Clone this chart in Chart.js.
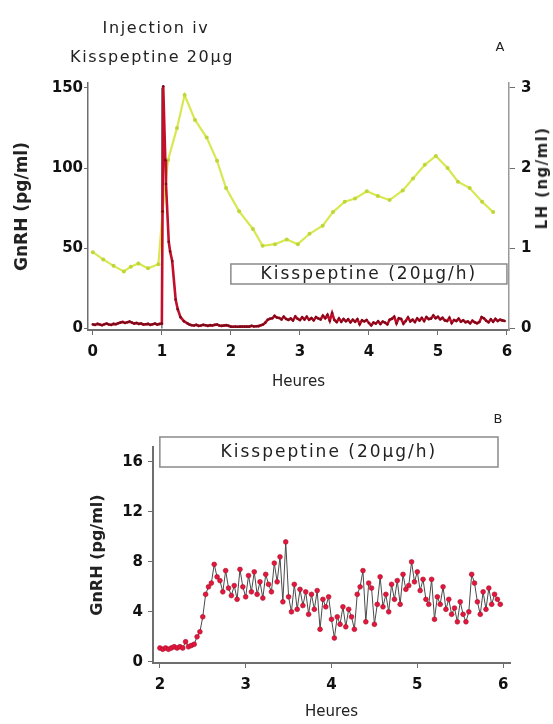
<!DOCTYPE html>
<html>
<head>
<meta charset="utf-8">
<script src="https://cdn.jsdelivr.net/npm/chart.js@4.4.0/dist/chart.umd.min.js"></script>
<style>
  body { margin: 0; background: #fff; width: 553px; height: 724px; position: relative; overflow: hidden;
         font-family: "DejaVu Sans", sans-serif; color: #222; }
  canvas { position: absolute; left: 0; }
  #chartA { top: 0; }
  #chartB { top: 395px; }
  .lbl { position: absolute; white-space: nowrap; transform: translate(-50%, -50%); font-size: 16px; letter-spacing: 1.6px; }
  .rot { transform: translate(-50%, -50%) rotate(-90deg); font-weight: bold; font-size: 15px; letter-spacing: 1.4px; }
</style>
</head>
<body>
<canvas id="chartA" width="553" height="395"></canvas>
<canvas id="chartB" width="553" height="329"></canvas>
<div class="lbl" style="left:156px; top:27px;">Injection iv</div>
<div class="lbl" style="left:152px; top:56px;">Kisspeptine 20µg</div>
<div class="lbl" style="left:500px; top:46px; font-size:13px; letter-spacing:0;">A</div>
<div class="lbl" style="left:498px; top:418px; font-size:13px; letter-spacing:0;">B</div>
<div class="lbl rot" style="left:542px; top:178px;">LH (ng/ml)</div>
<script>
// Hours axis ticks
const hourTicksA = [0, 1, 2, 3, 4, 5, 6];
const hourTicksB = [2, 3, 4, 5, 6];
const gnrhTicksA = [0, 50, 100, 150];
const lhTicks = [0, 1, 2, 3];
const gnrhTicksB = [0, 4, 8, 12, 16];

// Injection (iv bolus) at 1 h, infusion 20 µg/h from 2 h to 6 h
const injectionHour = 1;
const injectionMarkTop = 150;
const infusionStart = 2;
const infusionEnd = 6;
const infusionLabel = 'Kisspeptine (20µg/h)';

// LH (ng/ml), 10 min samples
const lhHours = [0, 0.15, 0.30, 0.45, 0.55, 0.66, 0.80, 0.95, 1.01, 1.09, 1.22, 1.33, 1.48, 1.65, 1.80, 1.93,
  2.12, 2.32, 2.46, 2.64, 2.81, 2.97, 3.14, 3.33, 3.48, 3.65, 3.80, 3.97, 4.13, 4.30, 4.49, 4.64, 4.81,
  4.97, 5.14, 5.29, 5.46, 5.64, 5.80];
const lhValues = [0.95, 0.86, 0.78, 0.71, 0.77, 0.81, 0.75, 0.80, 1.45, 2.10, 2.50, 2.91, 2.60, 2.38, 2.09, 1.75,
  1.46, 1.24, 1.03, 1.05, 1.11, 1.05, 1.18, 1.28, 1.45, 1.58, 1.62, 1.71, 1.65, 1.60, 1.72, 1.87, 2.04,
  2.15, 2.00, 1.83, 1.75, 1.58, 1.45];

// GnRH (pg/ml) before infusion: baseline, bolus peak, return to baseline
const gnrhEarlyHours = [0, 0.033, 0.067, 0.1, 0.133, 0.167, 0.2, 0.233, 0.267, 0.3, 0.333, 0.367, 0.4, 0.433,
  0.467, 0.5, 0.533, 0.567, 0.6, 0.633, 0.667, 0.7, 0.733, 0.767, 0.8, 0.833, 0.867, 0.9, 0.933, 0.967, 1.0,
  1.01, 1.02, 1.05, 1.06, 1.10, 1.12, 1.15, 1.20, 1.23, 1.27, 1.32, 1.37,
  1.40, 1.433, 1.467, 1.5, 1.533, 1.567, 1.6, 1.633, 1.667, 1.7, 1.733, 1.767, 1.8, 1.833, 1.867, 1.9, 1.933, 1.967];
const gnrhEarlyValues = [2.5, 2.2, 2.8, 2.4, 2.0, 2.6, 3.0, 2.4, 2.2, 2.8, 2.6, 3.2, 3.6, 4.0,
  3.4, 3.8, 4.2, 3.6, 3.0, 3.4, 2.8, 3.0, 2.4, 2.6, 2.8, 2.2, 2.6, 3.0, 2.4, 2.8, 3.0,
  73, 151, 105, 90, 54, 48, 42, 18, 12, 7, 4.5, 3.2,
  2.4, 2.0, 1.8, 2.2, 1.6, 1.8, 2.2, 2.0, 1.6, 2.0, 1.8, 2.2, 2.4, 1.8, 1.6, 1.8, 2.0, 1.6];

// GnRH (pg/ml) from 2 h, one sample every 2 min
const sampleMinutes = 2;
const gnrhInfusionValues = [
  1.1, 1.0, 1.1, 1.0, 1.1, 1.2, 1.1, 1.2, 1.1, 1.6, 1.2, 1.3, 1.4, 2.0, 2.4, 3.6, 5.4, 6.0, 6.3, 7.8,
  6.8, 6.5, 5.6, 7.3, 5.9, 5.3, 6.1, 5.0, 7.4, 6.0, 5.2, 6.9, 5.6, 7.2, 5.4, 6.4, 5.1, 7.0, 6.2, 5.6,
  7.9, 6.4, 8.4, 4.8, 9.6, 5.2, 4.0, 6.2, 4.2, 5.8, 4.5, 5.6, 3.8, 5.4, 4.2, 5.7, 2.6, 5.0, 4.4, 5.2,
  3.4, 1.9, 3.6, 3.0, 4.4, 2.8, 4.2, 3.6, 2.6, 5.4, 6.0, 7.3, 3.2, 6.3, 5.9, 3.0, 4.6, 6.8, 4.4, 5.4,
  4.0, 6.2, 5.0, 6.5, 4.6, 7.0, 5.8, 6.1, 8.0, 6.4, 7.2, 5.7, 6.6, 5.0, 4.6, 6.6, 3.4, 5.2, 4.6, 6.0,
  4.2, 5.0, 3.8, 4.3, 3.2, 4.8, 3.8, 3.2, 4.0, 7.0, 6.3, 4.8, 3.8, 5.6, 4.2, 5.9, 4.6, 5.4, 5.0, 4.6
];

const tickFont = { family: 'DejaVu Sans', size: 15, weight: 'bold' };
const axisGrey = '#6e6e6e';

function toPoints(xs, ys) {
  return xs.map((x, i) => ({ x: x, y: ys[i] }));
}

const infusionPoints = toPoints(
  gnrhInfusionValues.map((v, i) => infusionStart + i * sampleMinutes / 60),
  gnrhInfusionValues
);
const gnrhAllPoints = toPoints(gnrhEarlyHours, gnrhEarlyValues).concat(infusionPoints);

function fixedTicks(list) {
  return scale => { scale.ticks = list.map(v => ({ value: v })); };
}

// draws the "Kisspeptine (20µg/h)" bar
const infusionBox = {
  id: 'infusionBox',
  afterDatasetsDraw(chart, args, opts) {
    const { ctx, scales: { x } } = chart;
    const x1 = x.getPixelForValue(opts.from);
    const x2 = x.getPixelForValue(opts.to);
    ctx.save();
    ctx.fillStyle = '#fff';
    ctx.fillRect(x1, opts.top, x2 - x1, opts.height);
    ctx.strokeStyle = '#8a8a8a';
    ctx.lineWidth = 1.5;
    ctx.strokeRect(x1, opts.top, x2 - x1, opts.height);
    ctx.fillStyle = '#222';
    ctx.font = '17px "DejaVu Sans"';
    ctx.letterSpacing = '2px';
    ctx.textAlign = 'center';
    ctx.textBaseline = 'middle';
    ctx.fillText(opts.label, (x1 + x2) / 2, opts.top + opts.height / 2 + 1);
    ctx.restore();
  }
};

function hoursAxis(min, max, list, height, titlePad) {
  return {
    type: 'linear', min: min, max: max,
    afterBuildTicks: fixedTicks(list),
    afterFit: s => { s.height = height; },
    border: { color: axisGrey, width: 2 },
    grid: { drawOnChartArea: false, tickLength: 5, color: axisGrey },
    ticks: { font: tickFont, color: '#111', padding: 8, maxRotation: 0 },
    title: { display: true, text: 'Heures', font: { family: 'DejaVu Sans', size: 15 }, color: '#222',
             padding: { top: 0, bottom: titlePad } }
  };
}

new Chart(document.getElementById('chartA'), {
  type: 'line',
  data: {
    datasets: [
      {
        label: 'GnRH', data: gnrhAllPoints, yAxisID: 'y',
        borderColor: '#c20f2c', borderWidth: 2.6, pointRadius: 1.3,
        pointBackgroundColor: '#7a0a18', pointBorderWidth: 0, tension: 0
      },
      {
        label: 'LH', data: toPoints(lhHours, lhValues), yAxisID: 'y2',
        borderColor: '#d8e852', borderWidth: 2.2, pointRadius: 2,
        pointBackgroundColor: '#c0d538', pointBorderWidth: 0, tension: 0
      },
      {
        label: 'injection', yAxisID: 'y',
        data: [{ x: injectionHour, y: 0 }, { x: injectionHour, y: injectionMarkTop }],
        borderColor: '#777', borderWidth: 1.5, pointRadius: 0
      }
    ]
  },
  options: {
    responsive: false, animation: false, devicePixelRatio: 1,
    layout: { padding: { top: 83, left: 0, right: 0, bottom: 0 } },
    plugins: {
      legend: { display: false }, tooltip: { enabled: false },
      infusionBox: { from: infusionStart, to: infusionEnd, top: 264, height: 20, label: infusionLabel }
    },
    scales: {
      x: hoursAxis(-0.07, 6.03, hourTicksA, 65, 4),
      y: {
        position: 'left', min: -1, max: 153,
        afterBuildTicks: fixedTicks(gnrhTicksA),
        afterFit: s => { s.width = 88; },
        border: { color: axisGrey, width: 1.5 },
        grid: { drawOnChartArea: false, tickLength: 4, color: axisGrey },
        ticks: { font: tickFont, color: '#111', padding: 1 },
        title: { display: true, text: 'GnRH (pg/ml)', font: { family: 'DejaVu Sans', size: 17, weight: 'bold' },
                 color: '#222', padding: { top: 12, bottom: 0 } }
      },
      y2: {
        position: 'right', min: -0.02, max: 3.06,
        afterBuildTicks: fixedTicks(lhTicks),
        afterFit: s => { s.width = 44; },
        border: { color: '#9a9a9a', width: 1.5 },
        grid: { drawOnChartArea: false, tickLength: 6, color: axisGrey },
        ticks: { font: tickFont, color: '#111', padding: 6 }
      }
    }
  },
  plugins: [infusionBox]
});

new Chart(document.getElementById('chartB'), {
  type: 'line',
  data: {
    datasets: [{
      label: 'GnRH', data: infusionPoints,
      borderColor: '#4a4a4a', borderWidth: 1, pointRadius: 2.4,
      pointBackgroundColor: '#e3173e', pointBorderColor: '#a80c26', pointBorderWidth: 0.6, tension: 0
    }]
  },
  options: {
    responsive: false, animation: false, devicePixelRatio: 1,
    layout: { padding: { top: 52, left: 0, right: 43, bottom: 0 } },
    plugins: {
      legend: { display: false }, tooltip: { enabled: false },
      infusionBox: { from: infusionStart, to: 5.94, top: 42, height: 30, label: infusionLabel }
    },
    scales: {
      x: hoursAxis(1.92, 6.08, hourTicksB, 61, 3),
      y: {
        min: -0.1, max: 17.2,
        afterBuildTicks: fixedTicks(gnrhTicksB),
        afterFit: s => { s.width = 153; },
        border: { color: axisGrey, width: 2 },
        grid: { drawOnChartArea: false, tickLength: 5, color: axisGrey },
        ticks: { font: tickFont, color: '#111', padding: 5 },
        title: { display: true, text: 'GnRH (pg/ml)', font: { family: 'DejaVu Sans', size: 16, weight: 'bold' },
                 color: '#222', padding: { top: 88, bottom: 0 } }
      }
    }
  },
  plugins: [infusionBox]
});
</script>
</body>
</html>
